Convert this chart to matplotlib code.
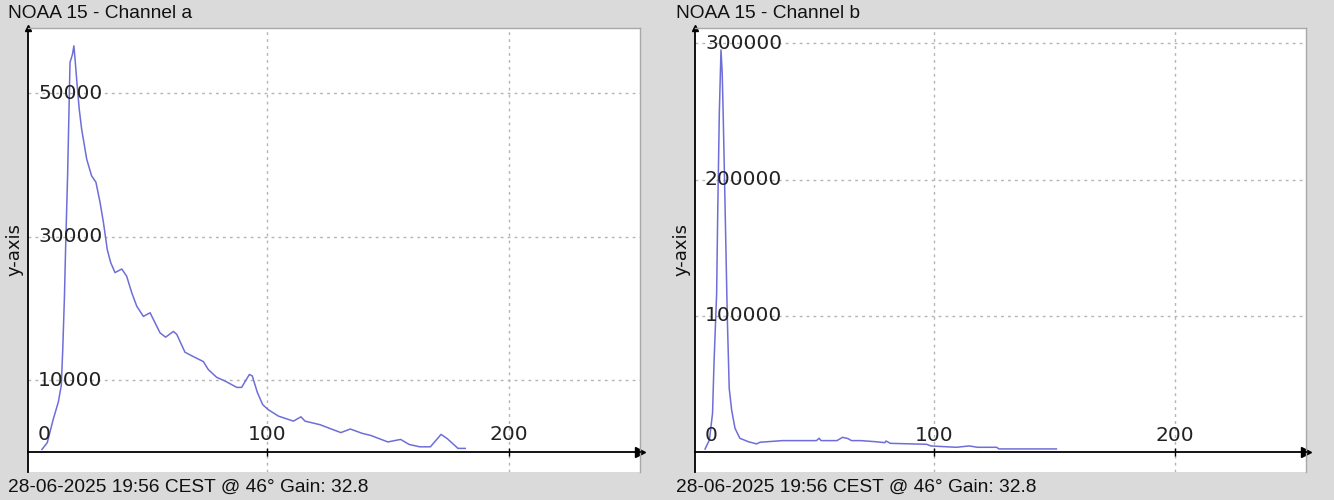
import numpy as np
import matplotlib
matplotlib.use('Agg')
import matplotlib.pyplot as plt

# channel a histogram (pixel value vs count)
xa = [7, 9.2, 11.7, 13.8, 15.0, 15.6, 16.3, 16.8, 17.6, 18.6, 19.6, 20.2, 20.7, 21.4, 22.4, 23.4,
      25.5, 27.5, 29.3, 31, 32.4, 34, 35.4, 37.2, 40, 42, 44.1, 46.2, 48.9, 51.7, 53, 55.8, 58.1,
      61.3, 62.7, 66.1, 69.5, 73.7, 75.7, 79.2, 82.6, 87.5, 89.5, 92.7, 93.9, 96, 98.2, 100.5,
      104.7, 110.9, 114, 115.7, 121.9, 130.5, 134.4, 139.3, 142.9, 149.9, 155.2, 158.7, 163.1,
      167.5, 171.9, 174.5, 178.9, 181.9]
ya = [350, 1300, 4600, 7000, 9300, 14300, 21700, 28700, 38500, 54300, 55400, 56600, 54700, 51700,
      47800, 45000, 40800, 38500, 37600, 34800, 32000, 28200, 26400, 25000, 25500, 24500, 22200,
      20300, 18900, 19400, 18500, 16600, 16000, 16800, 16400, 13900, 13300, 12600, 11500, 10400,
      9900, 9000, 9000, 10800, 10600, 8300, 6600, 5900, 5000, 4300, 4900, 4300, 3800, 2700, 3200,
      2600, 2300, 1400, 1750, 1050, 720, 720, 2450, 1850, 500, 500]

# channel b histogram
xb = [5.4, 7.2, 8.5, 9.1, 10.2, 10.6, 11.3, 12.0, 12.5, 12.9, 13.8, 14.6, 15.4, 16.4, 17.8, 19.8,
      23.3, 26.7, 28.2, 37.5, 51.5, 52.6, 53.4, 60, 62.3, 64.5, 66, 69.8, 75.9, 79.8, 80.3, 82.1,
      97.1, 98.8, 109.4, 114.7, 118.2, 126.1, 127, 150.8]
yb = [2500, 9200, 28700, 65300, 116600, 170300, 248500, 295000, 277800, 248500, 170300, 99500,
      47000, 31100, 17700, 10400, 7900, 6300, 7500, 8700, 8700, 10400, 8700, 8700, 11100, 10200,
      8700, 8700, 7900, 7200, 8400, 6700, 6000, 4800, 3800, 4800, 3800, 3800, 2600, 2600]

titles = ['NOAA 15 - Channel a', 'NOAA 15 - Channel b']
footer = '28-06-2025 19:56 CEST @ 46\u00b0 Gain: 32.8'
x_ticks = [0, 100, 200]
y_ticks_a = [10000, 30000, 50000]
y_ticks_b = [100000, 200000, 300000]

W, H = 1334, 500
bg = '#dadada'
line_col = '#6e6ed8'
grid_col = '#b4b4b4'
X0, X1 = 1.24, 254.1

fig = plt.figure(figsize=(W / 100, H / 100), dpi=100, facecolor=bg)


def px_axes(left, top, right, bottom):
    return fig.add_axes([left / W, 1 - bottom / H, (right - left) / W, (bottom - top) / H])


panels = [
    dict(box=(28, 28, 640, 472), x=xa, y=ya, yt=y_ticks_a, ylim=(-2790, 59090), tx=8, title=titles[0]),
    dict(box=(695, 28, 1306, 472), x=xb, y=yb, yt=y_ticks_b, ylim=(-14300, 311000), tx=676, title=titles[1]),
]

for p in panels:
    ax = px_axes(*p['box'])
    ax.set_facecolor('white')
    ax.set_xlim(X0, X1)
    ax.set_ylim(*p['ylim'])

    ax.spines['left'].set_position(('axes', 0))
    ax.spines['bottom'].set_position(('data', 0))
    ax.spines['left'].set_linewidth(1.3)
    ax.spines['bottom'].set_linewidth(1.3)
    for s in ['top', 'right']:
        ax.spines[s].set_color('#a8a8a8')
        ax.spines[s].set_linewidth(1.0)

    ax.set_xticks([100, 200])
    ax.set_yticks([])
    ax.tick_params(axis='x', direction='inout', length=6, width=1, labelbottom=False)

    # dotted grid
    for gx in [100, 200]:
        ax.axvline(gx, color=grid_col, linestyle=(0, (2, 3)), linewidth=1, zorder=0)
    for gy in p['yt']:
        ax.axhline(gy, color=grid_col, linestyle=(0, (2, 3)), linewidth=1, zorder=0)

    ax.plot(p['x'], p['y'], color=line_col, linewidth=1.1)

    # arrows at axis ends
    ax.plot([1], [0], marker='>', color='black', markersize=7,
            transform=ax.get_yaxis_transform(), clip_on=False)
    ax.plot([0], [1], marker='^', color='black', markersize=5,
            transform=ax.transAxes, clip_on=False)

    # tick labels drawn inside the plot
    for t in x_ticks:
        if t == 0:
            ax.annotate('0', xy=(X0, 0), xytext=(10 * 0.72, 12.5), textcoords='offset points',
                        ha='left', va='center', fontsize=14.5, color='#222222')
        else:
            ax.annotate(str(t), xy=(t, 0), xytext=(0, 12.5), textcoords='offset points',
                        ha='center', va='center', fontsize=14.5, color='#222222')
    for t in p['yt']:
        ax.annotate(str(t), xy=(X0, t), xytext=(10 * 0.72, 0), textcoords='offset points',
                    ha='left', va='center', fontsize=14.5, color='#222222')

    fig.text(p['tx'] / W, 1 - 13 / H, p['title'], ha='left', va='center',
             fontsize=13.8, family='Liberation Sans', color='#111111')
    fig.text(p['tx'] / W, 1 - 487 / H, footer, ha='left', va='center',
             fontsize=13.8, family='Liberation Sans', color='#111111')
    fig.text((p['box'][0] - 13) / W, 1 - 250 / H, 'y-axis', rotation=90, ha='center', va='center',
             fontsize=13, color='#111111')

fig.savefig('out.png', dpi=100, facecolor=bg)
